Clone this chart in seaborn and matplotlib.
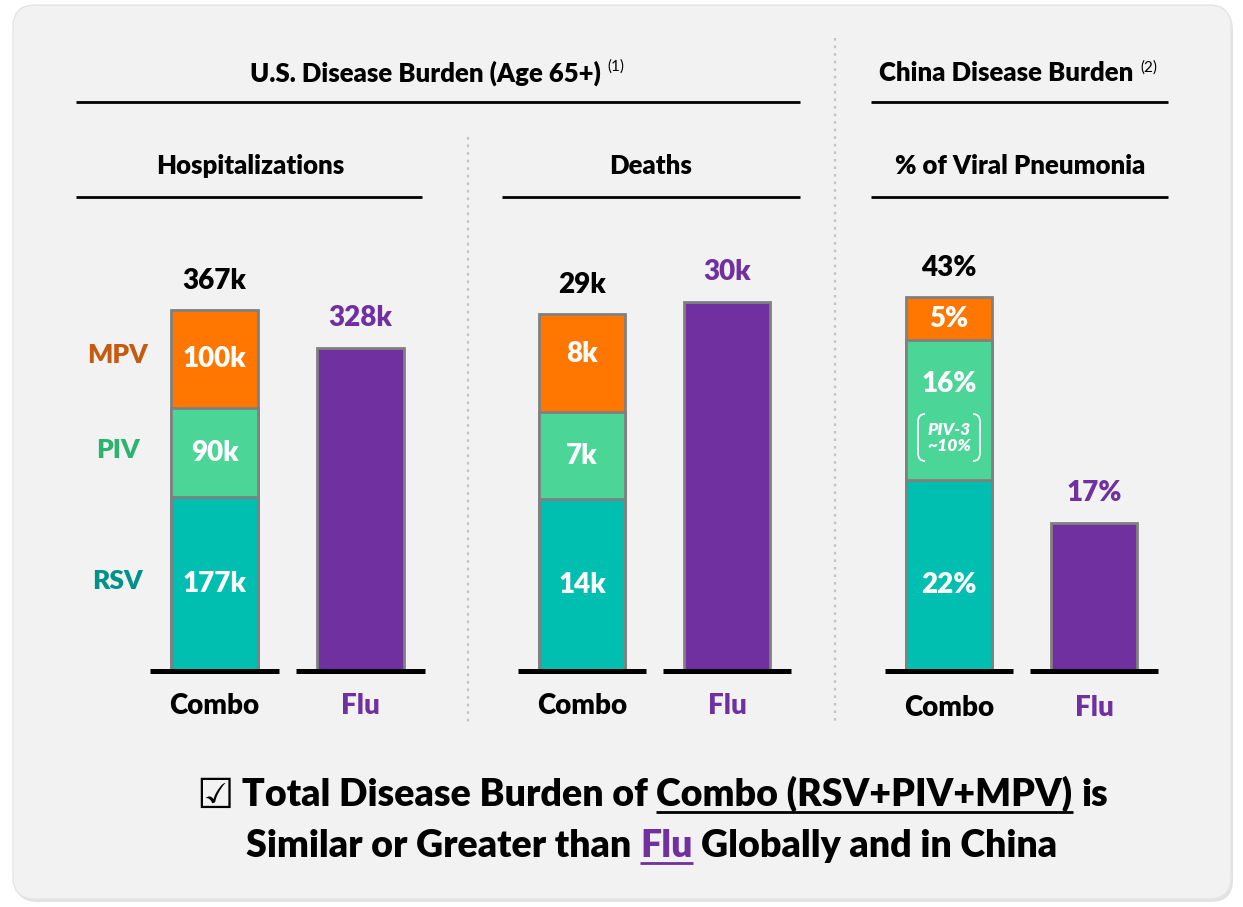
import numpy as np
import pandas as pd
import matplotlib
matplotlib.use("Agg")
import matplotlib.pyplot as plt
import seaborn as sns
from matplotlib.patches import FancyBboxPatch, PathPatch
from matplotlib.path import Path

# ---------------- data ----------------
groups = ["Combo", "Flu"]
components = ["RSV", "PIV", "MPV"]
panel_titles = ["Hospitalizations", "Deaths", "% of Viral Pneumonia"]
section_titles = ["U.S. Disease Burden (Age 65+)", "China Disease Burden"]
section_notes = ["(1)", "(2)"]
units = ["k", "k", "%"]

hosp_combo = [177, 90, 100]      # RSV, PIV, MPV (thousands)
hosp_flu = 328
death_combo = [14, 7, 8]         # thousands
death_flu = 30
china_combo = [22, 16, 5]        # % of viral pneumonia
china_flu = 17
piv3_note = "PIV-3\n~10%"

combo_parts = [hosp_combo, death_combo, china_combo]
flu_values = [hosp_flu, death_flu, china_flu]

# ---------------- style ----------------
RSV_C = "#00BFB1"
PIV_C = "#4BD597"
MPV_C = "#FF7700"
FLU_C = "#7030A0"
EDGE = "#808080"
LBL_C = {"MPV": "#C55A11", "PIV": "#2DB36F", "RSV": "#00918A"}
WT = "heavy"

W, H = 1243, 907
sns.set_theme(style="white")
plt.rcParams["font.family"] = ["Lato", "DejaVu Sans"]

fig = plt.figure(figsize=(W / 100, H / 100), dpi=100)
fig.patch.set_facecolor("white")

bg = fig.add_axes([0, 0, 1, 1], zorder=0)
bg.set_xlim(0, W)
bg.set_ylim(H, 0)
bg.axis("off")
bg.add_patch(FancyBboxPatch((15, 8), 1218, 894, boxstyle="round,pad=0,rounding_size=22",
                            fc="#e2e2e2", ec="none"))
bg.add_patch(FancyBboxPatch((13, 5), 1218, 894, boxstyle="round,pad=0,rounding_size=22",
                            fc="#f2f2f2", ec="#e4e4e4", lw=1))

# ---------------- headings ----------------
def heading(cx, y, s, size, note=None):
    t = bg.text(cx, y, s, ha="center", va="center", fontsize=size,
                fontweight=WT, color="black")
    if note:
        bg.annotate(note, xy=(1, 1), xycoords=t, xytext=(7, 1),
                    textcoords="offset pixels", ha="left", va="top",
                    fontsize=11, color="black")
    return t

heading(425, 73, section_titles[0], 18.5, section_notes[0])
heading(1006, 73, section_titles[1], 18.5, section_notes[1])
bg.plot([76, 800], [102, 102], color="black", lw=2, solid_capstyle="butt")
bg.plot([871, 1168], [102, 102], color="black", lw=2, solid_capstyle="butt")

sub_geo = [(250, 76, 422), (651, 502, 800), (1020, 871, 1168)]
for title, (cx, x0, x1) in zip(panel_titles, sub_geo):
    heading(cx, 166, title, 18.5)
    bg.plot([x0, x1], [197, 197], color="black", lw=2, solid_capstyle="butt")

for x, y0 in [(468, 137), (835, 38)]:
    bg.plot([x, x], [y0, 725], color="#c4c4c4", lw=1.6, ls=(0, (1.2, 2.2)))

# ---------------- bar panels ----------------
panel_geo = [
    dict(cx=214.5, unit=146, base=671, px_total=361),
    dict(cx=582, unit=145, base=671, px_total=357),
    dict(cx=949, unit=145, base=671, px_total=374),
]
inside_offsets = {(1, "MPV"): 9, (2, "PIV"): 26, (2, "RSV"): -10}
AX_TOP = 230
FB = 20

for p, geo in enumerate(panel_geo):
    parts = combo_parts[p]
    total = sum(parts)
    flu = flu_values[p]
    unit = units[p]
    left = geo["cx"] - 0.5 * geo["unit"]
    height_px = geo["base"] - AX_TOP
    ax = fig.add_axes([left / W, (H - geo["base"]) / H, 2 * geo["unit"] / W, height_px / H],
                      zorder=2)
    ax.patch.set_alpha(0)
    scale = geo["px_total"] / total
    ymax = height_px / scale

    cum = np.cumsum(parts)
    # layer 1: full combo (MPV on top) + flu
    df1 = pd.DataFrame({"group": groups, "value": [cum[2], flu]})
    sns.barplot(data=df1, x="group", y="value", hue="group", order=groups,
                palette={"Combo": MPV_C, "Flu": FLU_C}, saturation=1, width=0.59,
                edgecolor=EDGE, linewidth=2, legend=False, ax=ax, zorder=2)
    # layer 2: RSV + PIV
    df2 = pd.DataFrame({"group": ["Combo"], "value": [cum[1]]})
    sns.barplot(data=df2, x="group", y="value", order=groups, color=PIV_C,
                saturation=1, width=0.59, edgecolor=EDGE, linewidth=2, ax=ax, zorder=3)
    # layer 3: RSV
    df3 = pd.DataFrame({"group": ["Combo"], "value": [cum[0]]})
    sns.barplot(data=df3, x="group", y="value", order=groups, color=RSV_C,
                saturation=1, width=0.59, edgecolor=EDGE, linewidth=2, ax=ax, zorder=4)

    ax.set_xlim(-0.5, 1.5)
    ax.set_ylim(0, ymax)
    ax.axis("off")

    for i in range(2):
        ax.plot([i - 0.44, i + 0.44], [0, 0], color="black", lw=3.6,
                solid_capstyle="butt", clip_on=False, zorder=6)

    # totals above bars
    ax.annotate(f"{total}{unit}", xy=(0, total), xytext=(0, 29), textcoords="offset pixels",
                ha="center", va="center", fontsize=FB, fontweight=WT, color="black")
    ax.annotate(f"{flu}{unit}", xy=(1, flu), xytext=(0, 30), textcoords="offset pixels",
                ha="center", va="center", fontsize=FB, fontweight=WT, color=FLU_C)

    # inside labels
    bottoms = [0, cum[0], cum[1]]
    for comp, v, b in zip(components, parts, bottoms):
        off = inside_offsets.get((p, comp), 0)
        ax.annotate(f"{v}{unit}", xy=(0, b + v / 2), xytext=(0, off), textcoords="offset pixels",
                    ha="center", va="center", fontsize=FB, fontweight=WT,
                    color="white", zorder=7)
        if p == 0:
            ax.annotate(comp, xy=(0, b + v / 2), xytext=(-97, 3 if comp != "MPV" else 4),
                        textcoords="offset pixels", ha="center", va="center",
                        fontsize=19, fontweight=WT, color=LBL_C[comp])

    if p == 2:
        piv_center = cum[0] + parts[1] / 2
        ax.annotate(piv3_note, xy=(0, piv_center), xytext=(0, -28), textcoords="offset pixels",
                    ha="center", va="center", fontsize=12.5, fontweight=WT,
                    fontstyle="italic", color="white", linespacing=1.0, zorder=7)

    # category labels
    cat_off = -37 if p == 2 else -35
    for i, g in enumerate(groups):
        ax.annotate(g, xy=(i, 0), xytext=(0, cat_off), textcoords="offset pixels",
                    ha="center", va="center", fontsize=FB, fontweight=WT,
                    color="black" if g == "Combo" else FLU_C)

# overlay axis in pixel coordinates
ov = fig.add_axes([0, 0, 1, 1], zorder=5)
ov.set_xlim(0, W)
ov.set_ylim(H, 0)
ov.axis("off")
ov.patch.set_alpha(0)
for (xe, xs) in [(925, 918), (973, 980)]:
    verts = [(xe, 414), (xs, 414), (xs, 422), (xs, 453), (xs, 461), (xe, 461)]
    codes = [Path.MOVETO, Path.CURVE3, Path.CURVE3, Path.LINETO, Path.CURVE3, Path.CURVE3]
    ov.add_patch(PathPatch(Path(verts, codes), fc="none", ec="white", lw=1.3))

# ---------------- bottom statement ----------------
renderer = fig.canvas.get_renderer()
FS = 27

def measure(s, size=FS, **kw):
    t = ov.text(0, 0, s, fontsize=size, fontweight=WT, **kw)
    w = t.get_window_extent(renderer).width
    t.remove()
    return w

space_w = measure("a a") - measure("aa")

def statement_line(pieces, base_y, cx):
    widths = []
    for s, color, ul, fam, size in pieces:
        kw = {"family": fam} if fam else {}
        widths.append(measure(s, size=size, **kw))
    total_w = sum(widths) + space_w * (len(pieces) - 1)
    x = cx - total_w / 2
    for (s, color, ul, fam, size), w in zip(pieces, widths):
        kw = {"family": fam} if fam else {}
        ov.text(x, base_y + (2 if fam else 0), s, ha="left", va="baseline", fontsize=size,
                fontweight=WT, color=color, **kw)
        if ul:
            ov.plot([x, x + w], [base_y + 6, base_y + 6], color=color, lw=2,
                    solid_capstyle="butt")
        x += w + space_w

statement_line([("\u2611", "black", False, ["DejaVu Sans"], 30),
                ("Total Disease Burden of", "black", False, None, FS),
                ("Combo (RSV+PIV+MPV)", "black", True, None, FS),
                ("is", "black", False, None, FS)], 806, 652)
statement_line([("Similar or Greater than", "black", False, None, FS),
                ("Flu", FLU_C, True, None, FS),
                ("Globally and in China", "black", False, None, FS)], 857, 652)

fig.savefig("out.png", dpi=100, facecolor="white")
